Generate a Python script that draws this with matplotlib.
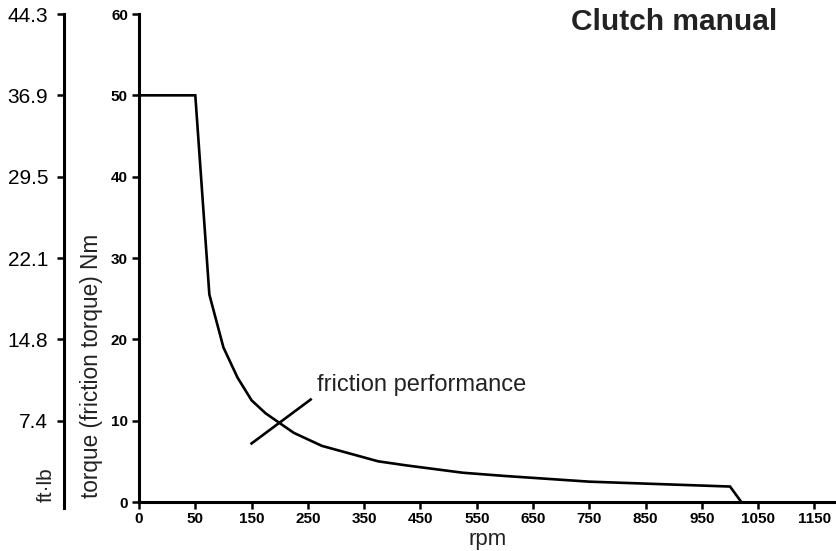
import numpy as np
import matplotlib
matplotlib.use("Agg")
import matplotlib.pyplot as plt

plt.rcParams['font.family'] = ['Liberation Sans', 'DejaVu Sans']

# torque curve (rpm, Nm)
rpm = [0, 50, 75, 100, 125, 150, 175, 200, 225, 275, 375, 425, 525, 600, 750, 1000, 1020]
torque_nm = [50, 50, 25.5, 19.0, 15.3, 12.5, 10.9, 9.7, 8.5, 6.9, 5.0, 4.5, 3.6, 3.2, 2.5, 1.9, 0]

x_ticks = [0, 50, 150, 250, 350, 450, 550, 650, 750, 850, 950, 1050, 1150]
nm_ticks = [0, 10, 20, 30, 40, 50, 60]
ftlb_ticks = [10, 20, 30, 40, 50, 60]   # in Nm, labelled in ft·lb
NM_TO_FTLB = 0.73756

# pointer for the "friction performance" label
pointer_rpm = [150, 255]
pointer_nm = [7.2, 12.6]
label_rpm, label_nm = 266, 13.7


def fwd(x):
    x = np.asarray(x, dtype=float)
    return np.where(x <= 50, x / 50.0, 1 + (x - 50) / 100.0)


def inv(p):
    p = np.asarray(p, dtype=float)
    return np.where(p <= 1, p * 50.0, 50 + (p - 1) * 100.0)


fig = plt.figure(figsize=(8.37, 5.51), dpi=100)
ax = fig.add_axes([139 / 837, 1 - 502 / 551, 698 / 837, 488 / 551])

ax.set_xscale('function', functions=(fwd, inv))
ax.plot(rpm, torque_nm, color='black', lw=1.9, solid_joinstyle='miter', clip_on=False)
ax.plot(pointer_rpm, pointer_nm, color='black', lw=1.9)
ax.text(label_rpm, label_nm, 'friction performance', fontsize=17, color='#222222',
        va='baseline', ha='left')

ax.set_xlim(0, float(inv(12.4)))
ax.set_ylim(0, 60)
ax.set_xticks(x_ticks)
ax.set_xticklabels([str(v) for v in x_ticks])
ax.set_yticks(nm_ticks)
ax.minorticks_off()

for s in ['top', 'right']:
    ax.spines[s].set_visible(False)
for s in ['left', 'bottom']:
    ax.spines[s].set_linewidth(2.2)

ax.tick_params(axis='both', width=1.8, length=5, direction='out')
ax.tick_params(axis='y', pad=3)
ax.tick_params(axis='x', pad=2)
for lab in ax.get_xticklabels() + ax.get_yticklabels():
    lab.set_fontweight('bold')
    lab.set_fontsize(11)

ax.set_xlabel('rpm', fontsize=16, color='#222222', labelpad=2)

# ft·lb axis on the far left
sec = ax.secondary_yaxis(-0.108, functions=(lambda v: v * NM_TO_FTLB, lambda v: v / NM_TO_FTLB))
sec.set_yticks([v * NM_TO_FTLB for v in ftlb_ticks])
sec.set_yticklabels(['%.1f' % (v * NM_TO_FTLB) for v in ftlb_ticks])
sec.spines['left'].set_linewidth(2.2)
sec.spines['left'].set_bounds(-0.7 * NM_TO_FTLB, 60 * NM_TO_FTLB)
sec.tick_params(axis='y', width=1.8, length=5, pad=6, labelsize=15)
sec.minorticks_off()

fig.text(46.7 / 837, 1 - 502 / 551, 'ft·lb', rotation=90, fontsize=15,
         ha='center', va='bottom', color='#222222')
fig.text(91.7 / 837, 1 - 498 / 551, 'torque (friction torque) Nm', rotation=90,
         fontsize=16.3, ha='center', va='bottom', color='#222222')
fig.text(777 / 837, 1 - 22 / 551, 'Clutch manual', fontsize=21.5, fontweight='bold',
         ha='right', va='center', color='#222222')

fig.savefig('out.png', dpi=100)
